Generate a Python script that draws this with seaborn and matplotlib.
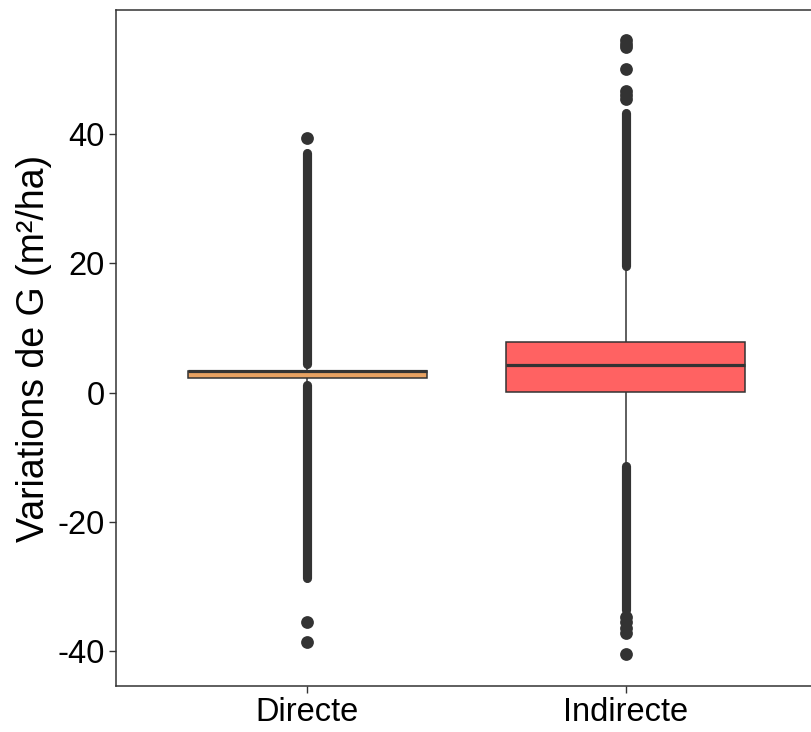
import matplotlib
matplotlib.use("Agg")
import matplotlib.pyplot as plt
import seaborn as sns
import pandas as pd

sns.set_theme(style="white")
plt.rcParams['font.family'] = ['Liberation Sans', 'DejaVu Sans']

# ---- data ----
categories = ["Directe", "Indirecte"]
# five-number summary per category: whisker low, Q1, median, Q3, whisker high
summary_directe = [1.6, 2.3, 3.3, 3.35, 4.3]
summary_indirecte = [-11.2, 0.1, 4.3, 7.9, 19.4]
# dense runs of outliers (start, end) per category
dense_directe = [(4.5, 37.1), (1.1, -28.7)]
dense_indirecte = [(19.6, 43.2), (-11.4, -33.6)]
# isolated outliers
sparse_directe = [39.4, -35.5, -38.6]
sparse_indirecte = [45.4, 46.0, 46.6, 50.1, 53.4, 54.0, 54.5,
                    -34.7, -35.5, -36.4, -37.2, -40.5]
fill_colors = ["#E8A262", "#FF6262"]
yticks = [-40, -20, 0, 20, 40]

edge = "#333333"

box_df = pd.DataFrame({
    "cat": [categories[0]] * len(summary_directe) + [categories[1]] * len(summary_indirecte),
    "val": summary_directe + summary_indirecte,
})
sparse_df = pd.DataFrame({
    "cat": [categories[0]] * len(sparse_directe) + [categories[1]] * len(sparse_indirecte),
    "val": sparse_directe + sparse_indirecte,
})

fig = plt.figure(figsize=(8.12, 7.32), dpi=100)
ax = fig.add_axes([116 / 812, 46 / 732, (817 - 116) / 812, 676 / 732])

sns.boxplot(data=box_df, x="cat", y="val", hue="cat", order=categories,
            hue_order=categories, palette=fill_colors, dodge=False,
            saturation=1, whis=(0, 100), showfliers=False, showcaps=False,
            width=0.75, linecolor=edge, linewidth=1.1,
            medianprops=dict(linewidth=2.3, color=edge),
            legend=False, ax=ax, zorder=2)

# dense outlier runs, drawn as round-capped strokes on the category axis
for i, runs in enumerate([dense_directe, dense_indirecte]):
    for a, b in runs:
        lc = ax.vlines(i, a, b, colors=edge, linewidth=6.6, zorder=3)
        lc.set_capstyle("round")

sns.stripplot(data=sparse_df, x="cat", y="val", order=categories, jitter=False,
              color=edge, size=9.2, linewidth=0, ax=ax, zorder=3)

ax.set_xlim(-0.6, 1.6)
ax.set_ylim(-45.4, 59.2)
ax.set_yticks(yticks)
ax.set_yticklabels([str(t) for t in yticks])
ax.set_xlabel("")
ax.set_ylabel("Variations de G (m²/ha)", fontsize=27, color="black", labelpad=4)
ax.tick_params(axis="both", which="both", direction="out", length=5, width=1.0,
               color=edge, labelsize=23.5, labelcolor="black", pad=3,
               left=True, bottom=True)
for s in ax.spines.values():
    s.set_visible(True)
    s.set_color(edge)
    s.set_linewidth(1.1)

fig.savefig("out.png", dpi=100)
